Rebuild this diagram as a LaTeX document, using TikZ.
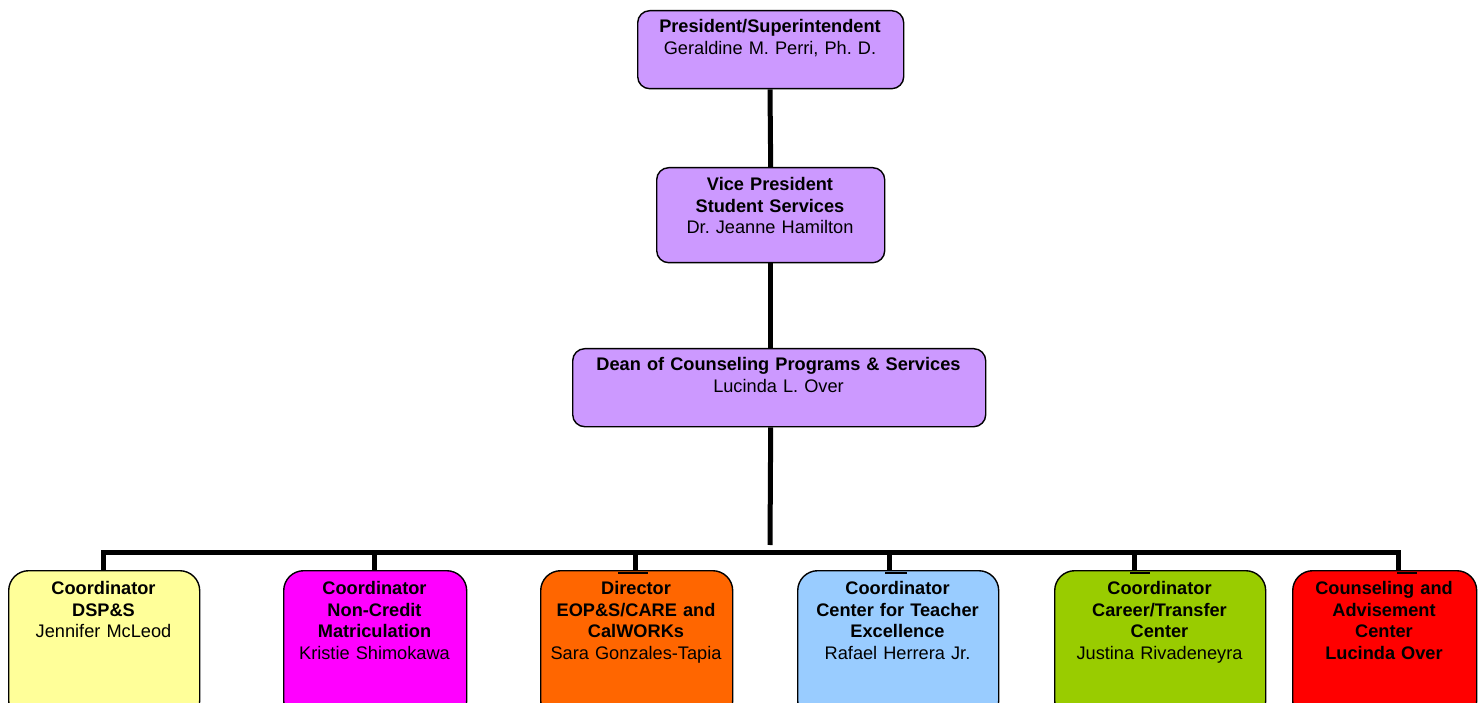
\documentclass[tikz,border=0pt]{standalone}
\usepackage{fontspec}
\setmainfont{Liberation Sans}
\frenchspacing
\definecolor{purp}{HTML}{CC99FF}
\definecolor{yell}{HTML}{FFFF99}
\definecolor{mage}{HTML}{FF00FF}
\definecolor{oran}{HTML}{FF6600}
\definecolor{lblue}{HTML}{99CCFF}
\definecolor{lgreen}{HTML}{99CC00}
\definecolor{bred}{HTML}{FF0000}
\begin{document}
\begin{tikzpicture}[x=1pt,y=-1pt,
  box/.style={draw=black, line width=1.4pt, rounded corners=12pt, anchor=north west, inner sep=0pt},
  lowbox/.style={box, rounded corners=20pt, minimum height=150pt},
  lbl/.style={anchor=base, align=center, inner sep=0pt, font=\fontsize{18.2}{21.6}\selectfont},
  conn/.style={line width=5pt},
  tick/.style={line width=1.8pt}]
\clip (0,0) rectangle (1481,703);
\fill[white] (0,0) rectangle (1481,703);

% top boxes
\node[box, fill=purp, minimum width=266pt, minimum height=78pt] (pres) at (637,10) {};
\node[lbl, text width=266pt] (prest) at (770,32.5) {\textbf{President/Superintendent}\\Geraldine M. Perri, Ph. D.};

\node[box, fill=purp, minimum width=228pt, minimum height=95pt] (vp) at (656,167) {};
\node[lbl, text width=228pt] (vpt) at (770,190.5) {\textbf{Vice President}\\\textbf{Student Services}\\Dr. Jeanne Hamilton};

\node[box, fill=purp, minimum width=413pt, minimum height=78pt] (dean) at (572,348) {};
\node[lbl, text width=413pt] (deant) at (778.5,370.5) {\textbf{Dean of Counseling Programs \& Services}\\Lucinda L. Over};

% bottom boxes
\node[lowbox, fill=yell, minimum width=191pt] (b1) at (8,570) {};
\node[lowbox, fill=mage, minimum width=183pt] (b2) at (283,570) {};
\node[lowbox, fill=oran, minimum width=192pt] (b3) at (540,570) {};
\node[lowbox, fill=lblue, minimum width=201pt] (b4) at (797,570) {};
\node[lowbox, fill=lgreen, minimum width=211pt] (b5) at (1054,570) {};
\node[lowbox, fill=bred, minimum width=184pt] (b6) at (1292,570) {};

\node[lbl, text width=191pt] (b1t) at (103.5,594.5) {\textbf{Coordinator}\\\textbf{DSP\&S}\\Jennifer McLeod};
\node[lbl, text width=183pt] (b2t) at (374.5,594.5) {\textbf{Coordinator}\\\textbf{Non-Credit}\\\textbf{Matriculation}\\Kristie Shimokawa};
\node[lbl, text width=192pt] (b3t) at (636,594.5) {\textbf{Director}\\\textbf{EOP\&S/CARE and}\\\textbf{CalWORKs}\\Sara Gonzales-Tapia};
\node[lbl, text width=201pt] (b4t) at (897.5,594.5) {\textbf{Coordinator}\\\textbf{Center for Teacher}\\\textbf{Excellence}\\Rafael Herrera Jr.};
\node[lbl, text width=211pt] (b5t) at (1159.5,594.5) {\textbf{Coordinator}\\\textbf{Career/Transfer}\\\textbf{Center}\\Justina Rivadeneyra};
\node[lbl, text width=184pt] (b6t) at (1384,594.5) {\textbf{Counseling and}\\\textbf{Advisement}\\\textbf{Center}\\\textbf{Lucinda Over}};

% connectors
\coordinate (trunkend) at (770,545);
\draw[conn] (pres.south -| prest.base) -- (vp.north);
\draw[conn] (vp.south) -- (vp.south |- dean.north);
\draw[conn] (vp.south |- dean.south) -- (trunkend);

\coordinate (d1) at (103,552);
\coordinate (d2) at (374,552);
\coordinate (d3) at (635,552);
\coordinate (d4) at (889,552);
\coordinate (d5) at (1134,552);
\coordinate (d6) at (1398,552);
\draw[conn, line cap=rect] (d1) -- (d6);
\draw[conn] (d1) -- (d1 |- b1.north);
\draw[conn] (d2) -- (d2 |- b2.north);
\draw[conn] (d3) -- (d3 |- b3.north);
\draw[conn] (d4) -- (d4 |- b4.north);
\draw[conn] (d5) -- (d5 |- b5.north);
\draw[conn] (d6) -- (d6 |- b6.north);

% small ticks at the drops
\draw[tick] ([xshift=-17pt,yshift=-3pt]d3 |- b3.north) -- ([xshift=13pt,yshift=-3pt]d3 |- b3.north);
\draw[tick] ([xshift=-4pt,yshift=-3pt]d4 |- b4.north) -- ([xshift=18pt,yshift=-3pt]d4 |- b4.north);
\draw[tick] ([xshift=-4pt,yshift=-3pt]d5 |- b5.north) -- ([xshift=16pt,yshift=-3pt]d5 |- b5.north);
\draw[tick] ([xshift=-1pt,yshift=-3pt]d6 |- b6.north) -- ([xshift=19pt,yshift=-3pt]d6 |- b6.north);
\end{tikzpicture}
\end{document}
